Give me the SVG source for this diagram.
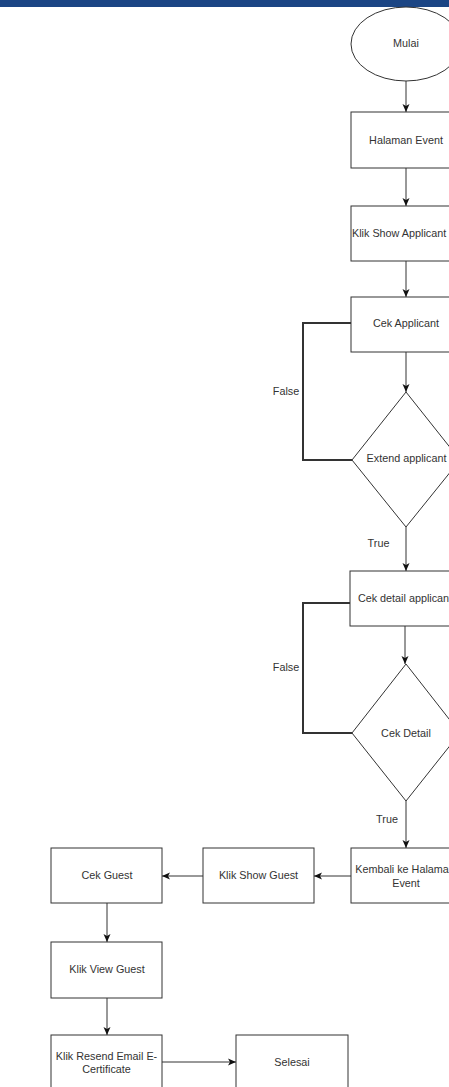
<svg xmlns="http://www.w3.org/2000/svg" width="449" height="1087" viewBox="0 0 449 1087">
<style>
.n{fill:#fff;stroke:#333;stroke-width:1}
.t{font-family:"Liberation Sans",Arial,sans-serif;font-size:10.8px;fill:#333;text-anchor:middle}
.e{fill:none;stroke:#333;stroke-width:1}
.f{fill:none;stroke:#333;stroke-width:2}
.l{font-family:"Liberation Sans",Arial,sans-serif;font-size:10.8px;fill:#333;text-anchor:middle}
</style>
<defs>
<marker id="a" viewBox="0 0 8 8" refX="8" refY="4" markerWidth="8" markerHeight="8" markerUnits="userSpaceOnUse" orient="auto">
<path d="M0,0.5 L8,4 L0,7.5 L2,4 Z" fill="#111"/>
</marker>
</defs>
<rect x="0" y="0" width="449" height="7" fill="#1b4584"/>
<g id="connectors">
<path class="e" d="M406,81 V112" marker-end="url(#a)"/>
<path class="e" d="M406,168 V206" marker-end="url(#a)"/>
<path class="e" d="M406,261 V297" marker-end="url(#a)"/>
<path class="e" d="M406,352 V392" marker-end="url(#a)"/>
<path class="e" d="M406,527 V571" marker-end="url(#a)"/>
<path class="e" d="M405,626 V664" marker-end="url(#a)"/>
<path class="e" d="M406,801 V848" marker-end="url(#a)"/>
<path class="f" d="M351,323 H303 V460 H352"/>
<path class="f" d="M350,603 H303 V733 H352"/>
<path class="e" d="M351,876 H314" marker-end="url(#a)"/>
<path class="e" d="M203,876 H162" marker-end="url(#a)"/>
<path class="e" d="M107,903 V942" marker-end="url(#a)"/>
<path class="e" d="M107,998 V1035" marker-end="url(#a)"/>
<path class="e" d="M162,1062 H236" marker-end="url(#a)"/>
<rect x="368" y="537" width="22" height="13" fill="#fff"/>
<text class="l" x="378.5" y="547">True</text>
<rect x="376" y="813" width="22" height="13" fill="#fff"/>
<text class="l" x="387" y="823">True</text>
<text class="l" x="286" y="395">False</text>
<text class="l" x="286" y="671">False</text>
</g>
<g id="mulai"><ellipse class="n" cx="406" cy="44" rx="55" ry="37"/><text class="t" x="406" y="47">Mulai</text></g>
<g id="halaman-event"><rect class="n" x="351" y="112" width="110" height="56"/><text class="t" x="406" y="144">Halaman Event</text></g>
<g id="klik-show-applicant"><rect class="n" x="351" y="206" width="110" height="55"/><text class="t" x="352" y="237" style="text-anchor:start">Klik Show Applicant</text></g>
<g id="cek-applicant"><rect class="n" x="351" y="297" width="110" height="55"/><text class="t" x="406" y="327">Cek Applicant</text></g>
<g id="extend-applicant"><path class="n" d="M406,392 L460,460 L406,527 L352,460 Z"/><text class="t" x="406.5" y="462">Extend applicant</text></g>
<g id="cek-detail-applicant"><rect class="n" x="350" y="571" width="110" height="55"/><text class="t" x="405" y="602">Cek detail applicant</text></g>
<g id="cek-detail"><path class="n" d="M406,664 L460,733 L406,801 L352,733 Z"/><text class="t" x="406" y="737">Cek Detail</text></g>
<g id="kembali"><rect class="n" x="351" y="848" width="110" height="55"/><text class="t" x="405" y="873">Kembali ke Halaman</text><text class="t" x="406" y="887">Event</text></g>
<g id="klik-show-guest"><rect class="n" x="203" y="848" width="111" height="55"/><text class="t" x="258.5" y="879">Klik Show Guest</text></g>
<g id="cek-guest"><rect class="n" x="51" y="848" width="111" height="55"/><text class="t" x="107" y="879">Cek Guest</text></g>
<g id="klik-view-guest"><rect class="n" x="51" y="942" width="111" height="56"/><text class="t" x="107" y="973">Klik View Guest</text></g>
<g id="klik-resend"><rect class="n" x="51" y="1035" width="111" height="56"/><text class="t" x="106.5" y="1060">Klik Resend Email E-</text><text class="t" x="106.5" y="1073">Certificate</text></g>
<g id="selesai"><rect class="n" x="236" y="1035" width="112" height="56"/><text class="t" x="292" y="1066">Selesai</text></g>
</svg>
